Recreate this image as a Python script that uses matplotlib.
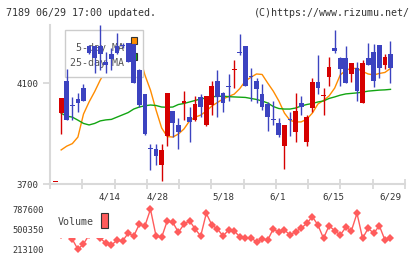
import numpy as np
import matplotlib.pyplot as plt
from matplotlib.patches import Rectangle

# daily candles, oldest first (index 0 is the half-drawn first day)
opens = [3708, 3980, 4110, 4010, 4035, 4080, 4245, 4245, 4245, 4185,
         4215, 4245, 4250, 4260, 4255, 4150, 4055, 3842, 3840, 3775,
         3890, 3990, 3935, 4020, 3965, 3955, 4045, 3935, 4015, 4110,
         4060, 4087, 4150, 4222, 4245, 4127, 4110, 4055, 4015, 3957,
         3940, 3850, 3957, 3905, 4020, 3865, 4000, 4105, 4050, 4125,
         4240, 4200, 4200, 4135, 4160, 4020, 4200, 4225, 4250, 4170,
         4215]
highs = [3708, 4040, 4155, 4045, 4060, 4095, 4250, 4245, 4330, 4225,
         4240, 4300, 4260, 4260, 4255, 4155, 4055, 3860, 3860, 3860,
         4060, 3990, 3960, 4070, 4005, 4050, 4055, 4050, 4110, 4150,
         4065, 4135, 4190, 4295, 4245, 4160, 4120, 4095, 4025, 4030,
         3960, 3935, 3985, 4060, 4050, 3975, 4120, 4210, 4080, 4205,
         4310, 4205, 4245, 4180, 4185, 4190, 4260, 4255, 4250, 4215,
         4265]
lows = [3708, 3900, 3955, 3955, 3985, 4030, 4215, 4140, 4150, 4140,
        4150, 4215, 4240, 4185, 4100, 4005, 3895, 3755, 3775, 3710,
        3850, 3885, 3840, 3955, 3865, 3950, 3965, 3930, 3975, 3965,
        3985, 4030, 4080, 4210, 4090, 4030, 4020, 3995, 3910, 3935,
        3885, 3760, 3890, 3865, 3975, 3850, 3985, 4055, 3975, 4090,
        4220, 4090, 4100, 4105, 4030, 4020, 4170, 4085, 4120, 4155,
        4100]
closes = [3708, 4040, 3955, 4008, 4020, 4030, 4220, 4200, 4215, 4170,
          4195, 4220, 4248, 4185, 4100, 4015, 3900, 3840, 3810, 3835,
          4060, 3940, 3905, 4030, 3945, 4015, 4005, 4050, 4090, 4045,
          4020, 4085, 4152, 4220, 4090, 4125, 4075, 4005, 3965, 3955,
          3895, 3935, 3955, 3990, 4005, 3965, 4105, 4080, 4052, 4165,
          4225, 4155, 4100, 4180, 4070, 4180, 4170, 4110, 4160, 4205,
          4160]

ma5 = [None, 3835, 3850, 3860, 3886, 3977, 4025, 4066, 4112, 4150,
       4180, 4205, 4223, 4235, 4223, 4211, 4132, 4072, 3993, 3922,
       3888, 3886, 3898, 3918, 3950, 3965, 3973, 3989, 4009, 4023,
       4037, 4047, 4056, 4078, 4108, 4123, 4136, 4134, 4100, 4068,
       4029, 3981, 3952, 3946, 3946, 3957, 3981, 4017, 4031, 4049,
       4080, 4132, 4151, 4158, 4158, 4146, 4136, 4132, 4138, 4142,
       4158]
ma25 = [None, 3980, 3969, 3965, 3953, 3940, 3934, 3940, 3950, 3954,
        3956, 3965, 3974, 3983, 3997, 4005, 4010, 4013, 4011, 4005,
        4004, 4005, 4015, 4019, 4025, 4031, 4037, 4041, 4046, 4047,
        4048, 4046, 4045, 4044, 4043, 4039, 4035, 4029, 4021, 4007,
        3999, 3997, 3997, 4001, 4009, 4015, 4019, 4025, 4029, 4039,
        4045, 4052, 4057, 4059, 4061, 4064, 4068, 4070, 4072, 4073,
        4075]

volume = [None, 420000, 450000, 356700, 213100, 290000, 420000, 440000, 375000, 299300,
          274900, 342400, 332300, 443000, 404100, 572100, 547700, 787600, 404100, 385400,
          619500, 600900, 457300, 572100, 623900, 504600, 404100, 730100, 562100, 504600,
          404100, 490300, 475900, 394100, 371100, 379700, 317900, 361000, 346700, 504600,
          457300, 490300, 418500, 465900, 514700, 586500, 681300, 562100, 371100, 552000,
          480200, 418500, 529100, 480200, 730100, 371100, 514700, 443000, 552000, 346700,
          371100]

date_labels = ["4/14", "4/28", "5/18", "6/1", "6/15", "6/29"]
date_pos = [9.75, 18.2, 30.0, 39.7, 49.7, 59.9]

price_ticks = [3700, 4100]
vol_ticks = [213100, 500350, 787600]

UP = "#d60000"
DOWN = "#3c43c0"
GRID = "#d9d9d9"
TXT = "#333333"
MONO = "DejaVu Sans Mono"

x = np.arange(len(opens))
xlim = (-1.0, 62.6)

fig = plt.figure(figsize=(4.2, 2.59), dpi=100)
ax = fig.add_axes([50 / 420, 1 - 184 / 259, 355 / 420, 159 / 259])
axv = fig.add_axes([50 / 420, 1 - 249.3 / 259, 355 / 420, 40 / 259])

# moving averages (under the legend box)
m5 = np.array([np.nan if v is None else v for v in ma5], dtype=float)
m25 = np.array([np.nan if v is None else v for v in ma25], dtype=float)
ax.plot(x, m5, color="#ff8c00", lw=1.0, zorder=2)
ax.plot(x, m25, color="#12a512", lw=1.0, zorder=2)

# legend box, candles are drawn over it
ax.add_patch(Rectangle((0.0423, 0.673), 0.2197, 0.2956, transform=ax.transAxes,
                       facecolor="white", edgecolor="#cccccc", lw=1, zorder=3))
ax.text(0.2085, 0.858, "5-day MA", transform=ax.transAxes, ha="right", va="center",
        fontsize=7.2, family=MONO, color="#555555", zorder=3.5)
ax.text(0.2085, 0.758, "25-day MA", transform=ax.transAxes, ha="right", va="center",
        fontsize=7.2, family=MONO, color="#555555", zorder=3.5)
ax.add_patch(Rectangle((0.228, 0.88), 0.018, 0.045, transform=ax.transAxes,
                       facecolor="#ff8c00", edgecolor="#333333", lw=0.8, zorder=3.5))
ax.add_patch(Rectangle((0.228, 0.78), 0.018, 0.045, transform=ax.transAxes,
                       facecolor="#12a512", edgecolor="#333333", lw=0.8, zorder=3.5))

# candles
for i in range(len(opens)):
    o, h, l, c = opens[i], highs[i], lows[i], closes[i]
    col = UP if c >= o else DOWN
    ax.vlines(x[i], l, h, color=col, lw=1.0, zorder=4)
    ax.bar(x[i], max(abs(c - o), 4), bottom=min(o, c), width=0.85,
           color=col, lw=0, zorder=5)

ax.set_xlim(*xlim)
ax.set_ylim(3700, 4330)
ax.set_xticks(np.linspace(xlim[0], xlim[1], 12))
ax.set_xticklabels([])
ax.set_yticks(price_ticks)
ax.set_yticklabels([str(v) for v in price_ticks], family=MONO, fontsize=6.6, color=TXT)
ax.tick_params(axis="x", direction="inout", length=7, width=1.3, color=GRID)
ax.tick_params(axis="y", direction="out", length=5, width=1.3, color=GRID, pad=3)
for side in ("top", "right"):
    ax.spines[side].set_visible(False)
for side in ("left", "bottom"):
    ax.spines[side].set_color(GRID)
    ax.spines[side].set_linewidth(1.5)
for p, lab in zip(date_pos, date_labels):
    ax.text(p, -0.082, lab, transform=ax.get_xaxis_transform(), ha="center",
            va="center", fontsize=6.6, family=MONO, color=TXT)

# volume
vol = np.array([np.nan if v is None else v for v in volume], dtype=float)
axv.plot(x, vol, color="#ff5c5c", lw=1.0, marker="D", markersize=4.2,
         markeredgewidth=0, clip_on=False, zorder=2)
axv.add_patch(Rectangle((0.005, 0.29), 0.175, 0.82, transform=axv.transAxes,
                        facecolor="white", edgecolor="none", zorder=3, clip_on=False))
axv.text(0.0225, 0.69, "Volume", transform=axv.transAxes, ha="left", va="center",
         fontsize=7.2, family=MONO, color="#444444", zorder=4)
axv.add_patch(Rectangle((0.1437, 0.525), 0.0205, 0.39, transform=axv.transAxes,
                        facecolor="#ff5c5c", edgecolor="#333333", lw=0.8, zorder=4,
                        clip_on=False))
axv.set_xlim(*xlim)
axv.set_ylim(vol_ticks[0], vol_ticks[-1])
axv.set_xticks([])
axv.set_yticks(vol_ticks)
axv.set_yticklabels([str(v) for v in vol_ticks], family=MONO, fontsize=6.2, color=TXT)
axv.tick_params(axis="y", length=0, pad=4.5)
for s in axv.spines.values():
    s.set_visible(False)

fig.text(6.5 / 420, 1 - 13 / 259, "7189 06/29 17:00 updated.", ha="left", va="center",
         fontsize=7.2, family=MONO, color=TXT)
fig.text(410 / 420, 1 - 13 / 259, "(C)https://www.rizumu.net/", ha="right", va="center",
         fontsize=7.2, family=MONO, color=TXT)

fig.savefig("out.png", dpi=100)
plt.close(fig)
